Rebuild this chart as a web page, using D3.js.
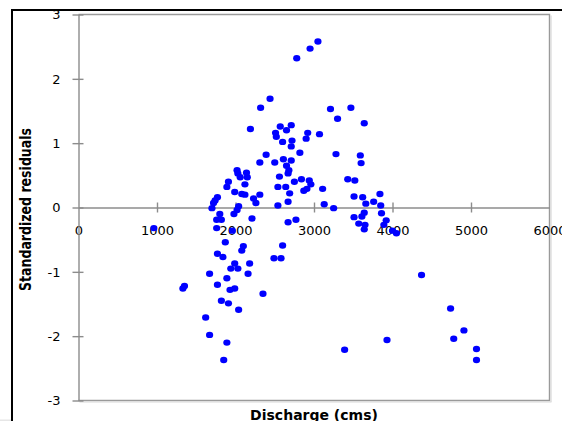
<!DOCTYPE html>
<html>
<head>
<meta charset="utf-8">
<script src="https://cdn.jsdelivr.net/npm/d3@7"></script>
<style>
  html, body { margin: 0; padding: 0; background: #fff; }
  svg { display: block; }
  text { font-family: "DejaVu Sans", Verdana, sans-serif; fill: #000; }
</style>
</head>
<body>
<svg id="chart" width="562" height="421"></svg>
<script>
// Discharge (cms) for each observation
const discharge = [
  3050, 2950, 2780, 2440, 2320, 2190, 2570, 2710, 2650, 2510,
  2520, 2600, 2720, 2710, 3210, 3470, 3300, 3640, 2920, 2900,
  3070, 2820, 3280, 3590, 3600, 2390, 2310, 2500, 2610, 2710,
  2650, 2680, 2670, 2560, 2020, 2030, 2140, 2060, 2150, 2120,
  1910, 1890, 2540, 2640, 2750, 2840, 2940, 2960, 2910, 2870,
  3110, 3430, 3520, 1990, 2080, 2120, 2310, 2230, 2260, 2690,
  2670, 1770, 1740, 1720, 1700, 2540, 3130, 3250, 2040, 2020,
  1980, 1800, 1760, 1820, 2210, 2670, 2770, 3510, 3620, 3840,
  3760, 3660, 3850, 3860, 3920, 3890, 3640, 3610, 3510, 3570,
  3650, 3640, 4000, 4050, 1760, 1960, 1870, 2100, 2080, 2600,
  1770, 1840, 2490, 2580, 1990, 2180, 1940, 2030, 1670, 2160,
  1890, 1350, 1330, 1770, 1930, 1990, 2350, 1820, 1910, 2040,
  1620, 1670, 1890, 1850, 3390, 3930, 4370, 4740, 4910, 4780,
  5070, 5070, 960
];

// Standardized residual for each observation (same order)
const residual = [
   2.58,  2.47,  2.32,  1.69,  1.55,  1.22,  1.26,  1.28,  1.20,  1.16,
   1.10,  1.02,  1.04,  0.95,  1.53,  1.55,  1.38,  1.31,  1.16,  1.07,
   1.14,  0.85,  0.83,  0.81,  0.69,  0.82,  0.70,  0.70,  0.75,  0.73,
   0.65,  0.58,  0.53,  0.48,  0.58,  0.53,  0.54,  0.47,  0.47,  0.36,
   0.40,  0.32,  0.32,  0.32,  0.40,  0.44,  0.42,  0.36,  0.29,  0.26,
   0.29,  0.44,  0.42,  0.24,  0.21,  0.20,  0.20,  0.14,  0.07,  0.22,
   0.09,  0.16,  0.11,  0.07, -0.01,  0.03,  0.05, -0.01,  0.02, -0.04,
  -0.10, -0.10, -0.19, -0.19, -0.17, -0.23, -0.19,  0.17,  0.16,  0.21,
   0.09,  0.06,  0.03, -0.09, -0.20, -0.27, -0.08, -0.14, -0.15, -0.25,
  -0.27, -0.34, -0.36, -0.40, -0.32, -0.36, -0.54, -0.60, -0.67, -0.59,
  -0.72, -0.77, -0.79, -0.79, -0.87, -0.87, -0.95, -0.95, -1.03, -1.03,
  -1.10, -1.22, -1.26, -1.20, -1.28, -1.26, -1.34, -1.45, -1.49, -1.59,
  -1.71, -1.98, -2.10, -2.37, -2.21, -2.06, -1.05, -1.57, -1.91, -2.04,
  -2.20, -2.37, -0.32
];

const xTicks = [0, 1000, 2000, 3000, 4000, 5000, 6000];
const yTicks = [-3, -2, -1, 0, 1, 2, 3];

const xTitle = "Discharge (cms)";
const yTitle = "Standardized residuals";

(function draw() {
  const svg = d3.select("#chart");

  // plot area bounds
  const pL = 78.5, pR = 549.5, pT = 14.5, pB = 400.5;

  const x = d3.scaleLinear().domain([0, 6000]).range([pL, pR]);
  const y = d3.scaleLinear().domain([-3, 3]).range([pB, pT]);

  // plain hyphen-minus for negative tick labels
  const plain = d => String(d);

  // thin grey strip along the bottom edge
  svg.append("rect")
    .attr("x", 0).attr("y", 419.5)
    .attr("width", 562).attr("height", 2)
    .attr("fill", "#e6e6e6");

  // outer chart frame
  svg.append("rect")
    .attr("x", 12).attr("y", 10)
    .attr("width", 600).attr("height", 500)
    .attr("fill", "#fff")
    .attr("stroke", "#000").attr("stroke-width", 2);

  // plot area frame (top, right, bottom)
  svg.append("path")
    .attr("d", `M${pL},${pT}H${pR}V${pB}H${pL}`)
    .attr("fill", "none")
    .attr("stroke", "#9a9a9a").attr("stroke-width", 1.4);
  svg.append("line")
    .attr("x1", pR + 1.5).attr("x2", pR + 1.5)
    .attr("y1", pT + 1).attr("y2", pB + 1.5)
    .attr("stroke", "#d0d0d0").attr("stroke-width", 1);
  svg.append("line")
    .attr("x1", pL + 1).attr("x2", pR + 2)
    .attr("y1", pB + 1.5).attr("y2", pB + 1.5)
    .attr("stroke", "#d8d8d8").attr("stroke-width", 1);

  const axisColor = "#8c8c8c";
  const tickFont = "'DejaVu Sans', Verdana, sans-serif";

  // x axis runs along residual = 0
  const xAxis = svg.append("g")
    .attr("transform", `translate(0,${y(0)})`)
    .call(d3.axisBottom(x).tickValues(xTicks).tickSizeOuter(0).tickFormat(plain));
  xAxis.select(".domain").attr("stroke", axisColor).attr("stroke-width", 1.4);
  xAxis.selectAll(".tick line")
    .attr("y1", -5).attr("y2", 5)
    .attr("stroke", axisColor).attr("stroke-width", 1.4)
    .filter(d => d === 0 || d === 6000).remove();
  xAxis.selectAll(".tick text")
    .attr("y", 18.5)
    .style("font-size", "13px")
    .style("font-family", tickFont)
    .attr("fill", "#000");

  // y axis along the left edge
  const yAxis = svg.append("g")
    .attr("transform", `translate(${pL},0)`)
    .call(d3.axisLeft(y).tickValues(yTicks).tickSizeOuter(0).tickFormat(plain));
  yAxis.select(".domain").attr("stroke", axisColor).attr("stroke-width", 1.4);
  yAxis.selectAll(".tick line")
    .attr("x1", -6).attr("x2", 5)
    .attr("stroke", axisColor).attr("stroke-width", 1.4);
  yAxis.selectAll(".tick text")
    .attr("x", -18)
    .style("font-size", "13px")
    .style("font-family", tickFont)
    .attr("fill", "#000");

  // points
  svg.append("g")
    .selectAll("ellipse")
    .data(discharge.map((d, i) => [d, residual[i]]))
    .join("ellipse")
    .attr("cx", d => x(d[0]))
    .attr("cy", d => y(d[1]))
    .attr("rx", 3.6)
    .attr("ry", 3.2)
    .attr("fill", "#0000ff");

  // axis titles
  svg.append("text")
    .attr("x", (pL + pR) / 2)
    .attr("y", 419.5)
    .attr("text-anchor", "middle")
    .style("font-size", "14px")
    .style("font-weight", "bold")
    .text(xTitle);

  svg.append("text")
    .attr("transform", `translate(31,${(pT + pB) / 2 + 2}) rotate(-90)`)
    .attr("text-anchor", "middle")
    .attr("textLength", 163)
    .attr("lengthAdjust", "spacingAndGlyphs")
    .style("font-size", "16px")
    .style("font-weight", "bold")
    .text(yTitle);
})();
</script>
</body>
</html>
